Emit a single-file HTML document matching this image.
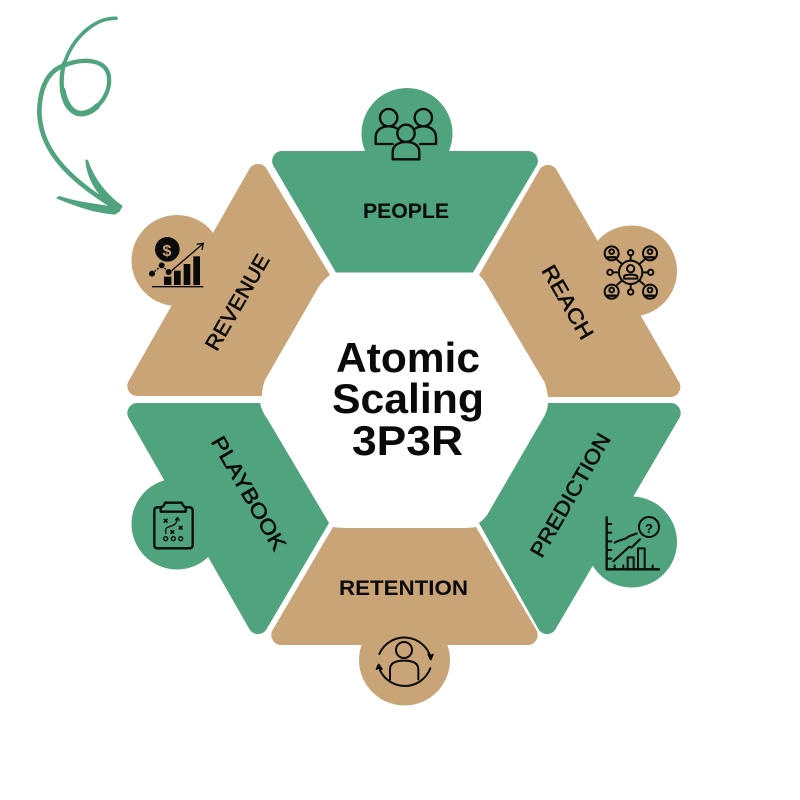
<!DOCTYPE html>
<html><head><meta charset="utf-8"><style>
html,body{margin:0;padding:0;background:#fff}
svg{display:block}
text{font-family:"Liberation Sans",sans-serif;font-weight:700;fill:#0a0a0a;text-anchor:middle}
text.r{font-weight:400;stroke:#0a0a0a;stroke-width:.55px}
.i{fill:none;stroke:#0a0a0a;stroke-linecap:round;stroke-linejoin:round}
</style></head><body>
<svg width="800" height="800" viewBox="0 0 800 800" xmlns="http://www.w3.org/2000/svg">
<rect width="800" height="800" fill="#fff"/>
<!-- swirl arrow -->
<g transform="translate(20,0) scale(.33333)" fill="none" stroke="#4fa37d" stroke-linecap="round" stroke-linejoin="round">
<path d="M288,55 C225,52 155,115 132,195" stroke-width="11"/>
<path d="M132,190 C115,260 130,340 180,340 C235,335 275,280 266,225 C255,178 190,172 130,197" stroke-width="13"/>
<path d="M128,270 C135,310 155,342 185,341 C205,340 220,330 232,318" stroke-width="17"/>
<path d="M130,197 C80,215 58,270 58,340 C62,440 130,530 290,625" stroke-width="14"/>
<path d="M196,480 Q200,476 205,482 C220,530 255,580 308,618 L298,636 L280,625 C235,590 200,540 196,480Z" fill="#4fa37d" stroke="none"/>
<path d="M110,592 L118,588 C170,605 230,612 298,622 L300,634 L285,644 C225,640 170,620 110,596Z" fill="#4fa37d" stroke="none"/>
</g>
<!-- People -->
<g fill="#4fa37d">
<circle cx="407" cy="133.500" r="45.500"/>
<path d="M282,151 H528 A10,10 0 0 1 536.500,166 L473,272.500 H336 L273.500,166 A10,10 0 0 1 282,151Z"/>
<!-- Prediction -->
<circle cx="631.500" cy="542" r="45.500"/>
<path d="M548,403 H671 A10,10 0 0 1 679.500,417.700 L555.500,629.300 A10,10 0 0 1 538.500,629.300 L479,523 Q486,518 490,510 L545,415 Q548,408 548,403Z"/>
<!-- Playbook -->
<circle cx="177" cy="524" r="45.500"/>
<path d="M137,403 H260 Q262,412 268,420 L329,523 L266.500,629.300 A10,10 0 0 1 249.500,629.300 L128.500,417.700 A10,10 0 0 1 137,403Z"/>
</g>
<g fill="#c9a477">
<!-- Reach -->
<circle cx="631.500" cy="271" r="45.500"/>
<path d="M539.500,169.700 A10,10 0 0 1 556.500,169.700 L679.200,382.300 A10,10 0 0 1 670.700,397 H548 Q547,390 545,383 L485,282 Q482,278 479,275Z"/>
<!-- Retention -->
<circle cx="404.500" cy="660" r="45.500"/>
<path d="M333,527 Q340,528 350,528 H460 Q470,528 476,527 L536.500,630.300 A10,10 0 0 1 528,645 H281 A10,10 0 0 1 272.500,630.300Z"/>
<!-- Revenue -->
<circle cx="177" cy="260.500" r="45.500"/>
<path d="M249.500,168.700 A10,10 0 0 1 266.500,168.700 L330,275 Q323,280 318,288 L265,380 Q262,388 262,396 H137 A10,10 0 0 1 128.500,381.300Z"/>
</g>
<!-- labels -->
<text x="406" y="218" font-size="21" textLength="86" lengthAdjust="spacingAndGlyphs">PEOPLE</text>
<text x="403.500" y="595" font-size="21" textLength="129" lengthAdjust="spacingAndGlyphs">RETENTION</text>
<text class="r" transform="translate(568,302) rotate(60)" y="7.500" font-size="21" textLength="82" lengthAdjust="spacingAndGlyphs">REACH</text>
<text class="r" transform="translate(570,495) rotate(-60)" y="7.500" font-size="21" textLength="139" lengthAdjust="spacingAndGlyphs">PREDICTION</text>
<text class="r" transform="translate(249,493) rotate(60)" y="7.500" font-size="21" textLength="128" lengthAdjust="spacingAndGlyphs">PLAYBOOK</text>
<text class="r" transform="translate(237,302) rotate(-60)" y="7.500" font-size="21" textLength="107" lengthAdjust="spacingAndGlyphs">REVENUE</text>
<text x="408" y="372" font-size="42" textLength="144" lengthAdjust="spacingAndGlyphs">Atomic</text>
<text x="408" y="413" font-size="42" textLength="152" lengthAdjust="spacingAndGlyphs">Scaling</text>
<text x="407.500" y="455" font-size="42" textLength="111" lengthAdjust="spacingAndGlyphs">3P3R</text>
<!-- people icon -->
<g transform="translate(260,80) scale(.33333)" class="i" stroke-width="7">
<circle cx="386" cy="113" r="26"/><circle cx="490" cy="113" r="26"/><circle cx="438" cy="160" r="26"/>
<path d="M398,192 H347 V172 C347,150 365,139 386,139 C395,139 403,141 410,145"/>
<path d="M480,192 H528 V172 C528,150 510,139 490,139 C482,139 474,141 467,145"/>
<path d="M398,238 V216 C398,195 418,186 438,186 C460,186 478,195 478,216 V238Z"/>
</g>
<!-- reach icon -->
<g transform="translate(470,160) scale(.33333)" class="i" stroke-width="6">
<circle cx="482" cy="337" r="35"/><circle cx="482" cy="326" r="11"/>
<path d="M462,356 V350 C462,342 502,342 502,350 V356Z"/>
<circle cx="425" cy="280" r="21"/><circle cx="540" cy="280" r="21"/><circle cx="425" cy="395" r="21"/><circle cx="540" cy="395" r="21"/>
<circle cx="425" cy="275" r="7"/><circle cx="540" cy="275" r="7"/><circle cx="425" cy="390" r="7"/><circle cx="540" cy="390" r="7"/>
<path d="M413,292 H437 M528,292 H552 M413,407 H437 M528,407 H552" stroke-width="7"/>
<circle cx="482" cy="278" r="8"/><circle cx="482" cy="396" r="8"/><circle cx="420" cy="337" r="8"/><circle cx="542" cy="337" r="8"/>
<path d="M482,286 V302 M482,372 V388 M428,337 H447 M517,337 H534 M442,300 L456,312 M522,300 L508,312 M442,374 L456,362 M522,374 L508,362"/>
</g>
<!-- prediction icon -->
<g transform="translate(470,400) scale(.33333)" class="i" stroke-width="6">
<path d="M410,352 V508 H567" stroke-width="7"/>
<path d="M410,372 H424 M410,398 H424 M410,424 H424 M410,450 H424 M410,476 H424 M434,508 V496 M460,508 V496 M548,508 V496"/>
<rect x="473" y="472" width="18" height="36"/><rect x="504" y="445" width="20" height="63"/>
<circle cx="537" cy="381" r="30"/>
<path d="M434,428 C450,418 465,420 475,410 C485,405 490,405 500,400"/>
<path d="M430,484 L478,440 L484,443 L510,418"/>
</g>
<text x="649" y="533" style="font-size:13px">?</text>
<!-- retention icon -->
<g transform="translate(260,520) scale(.33333)" class="i" stroke-width="6">
<circle cx="432" cy="390" r="24"/>
<path d="M390,478 V448 C390,428 410,422 432,422 C455,422 475,428 475,448 V478"/>
<path d="M358,402 A82,82 0 0 1 512,412"/>
<path d="M511,445 A82,82 0 0 1 356,440"/>
<path d="M505,402 L512,418 L518,404 M350,447 L356,434 L365,447" fill="#0a0a0a"/>
</g>
<!-- playbook icon -->
<g transform="translate(120,400) scale(.33333)" class="i" stroke-width="7">
<path d="M122,322 H113 Q103,322 103,332 V435 Q103,445 113,445 H208 Q218,445 218,435 V332 Q218,322 208,322 H197"/>
<path d="M122,335 V322 Q132,320 135,308 H185 Q190,320 197,322 V335Z"/>
<circle cx="137" cy="416" r="6" stroke-width="4"/><circle cx="160" cy="416" r="6" stroke-width="4"/><circle cx="182" cy="416" r="6" stroke-width="4"/>
<path d="M137,400 V390 C137,375 170,385 172,356" stroke-width="4"/>
<path d="M166,360 L173,352 L178,362" stroke-width="3.500"/>
<path d="M133,358 L141,366 M141,358 L133,366 M178,379 L186,387 M186,379 L178,387 M153,392 L161,400 M161,392 L153,400" stroke-width="5"/>
</g>
<!-- revenue icon -->
<g transform="translate(120,160) scale(.33333)">
<circle cx="142" cy="268" r="37" fill="#0a0a0a"/>
<rect x="132" y="350" width="22" height="25" fill="#0a0a0a"/>
<rect x="162" y="332" width="20" height="43" fill="#0a0a0a"/>
<rect x="191" y="312" width="20" height="63" fill="#0a0a0a"/>
<rect x="220" y="289" width="20" height="86" fill="#0a0a0a"/>
<path d="M96,380 H250" stroke="#0a0a0a" stroke-width="4"/>
<path d="M155,332 L248,252 M230,253 L250,250 L246,270" fill="none" stroke="#0a0a0a" stroke-width="4"/>
<path d="M96,341 L125,316 L146,336" fill="none" stroke="#0a0a0a" stroke-width="4" stroke-dasharray="6 4"/>
<circle cx="96" cy="341" r="9" fill="#0a0a0a"/><circle cx="125" cy="316" r="9" fill="#0a0a0a"/><circle cx="146" cy="336" r="9" fill="#0a0a0a"/>
</g>
<text x="167" y="256" style="font-size:16px;fill:#c9a477">$</text>
</svg>
</body></html>
